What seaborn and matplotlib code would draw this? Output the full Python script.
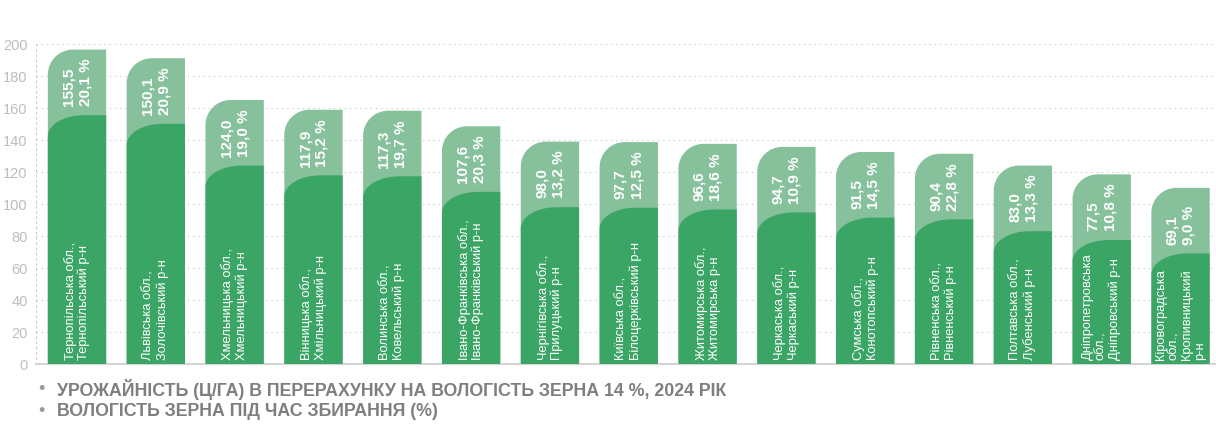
import matplotlib
matplotlib.use("Agg")
import matplotlib.pyplot as plt
import seaborn as sns
import pandas as pd
from matplotlib.path import Path
from matplotlib.patches import PathPatch

# ---------------- data ----------------
regions = [
    "Тернопільська обл.,\nТернопільський р-н",
    "Львівська обл.,\nЗолочівський р-н",
    "Хмельницька обл.,\nХмельницький р-н",
    "Вінницька обл.,\nХмільницький р-н",
    "Волинська обл.,\nКовельський р-н",
    "Івано-Франківська обл.,\nІвано-Франківський р-н",
    "Чернігівська обл.,\nПрилуцький р-н",
    "Київська обл.,\nБілоцерківський р-н",
    "Житомирська обл.,\nЖитомирська р-н",
    "Черкаська обл.,\nЧеркаський р-н",
    "Сумська обл.,\nКонотопський р-н",
    "Рівненська обл.,\nРівненський р-н",
    "Полтавська обл.,\nЛубенський р-н",
    "Дніпропетровська\nобл.,\nДніпровський р-н",
    "Кіровоградська\nобл.,\nКропивницький\nр-н",
]
yields = [155.5, 150.1, 124.0, 117.9, 117.3, 107.6, 98.0, 97.7, 96.6, 94.7, 91.5, 90.4, 83.0, 77.5, 69.1]
moisture = [20.1, 20.9, 19.0, 15.2, 19.7, 20.3, 13.2, 12.5, 18.6, 10.9, 14.5, 22.8, 13.3, 10.8, 9.0]
yticks = [0, 20, 40, 60, 80, 100, 120, 140, 160, 180, 200]
legend_items = [
    "УРОЖАЙНІСТЬ (Ц/ГА) В ПЕРЕРАХУНКУ НА ВОЛОГІСТЬ ЗЕРНА 14 %, 2024 РІК",
    "ВОЛОГІСТЬ ЗЕРНА ПІД ЧАС ЗБИРАННЯ (%)",
]

# ---------------- style ----------------
DARK = "#3ba566"
LIGHT = "#87c19c"
LABEL_BOX = 41          # height of the light label cap above each bar (style)
TXT_GREY = "#7f7f7f"
TICK_GREY = "#bdbdbd"
GRID_GREY = "#c9c9c9"

sns.set_theme(style="white")
plt.rcParams["font.family"] = ["Liberation Sans", "DejaVu Sans"]

def fmt(v):
    return f"{v:.1f}".replace(".", ",")

df = pd.DataFrame({
    "region": regions,
    "yield": yields,
    "cap": [y + LABEL_BOX for y in yields],
})

W, H = 1216, 430
fig = plt.figure(figsize=(W / 100, H / 100), dpi=100)
ax_left, ax_bottom, ax_w, ax_h = 36, 66, 1180, 320
ax = fig.add_axes([ax_left / W, ax_bottom / H, ax_w / W, ax_h / H])

BAR_W = 0.74
sns.barplot(data=df, x="region", y="cap", color=LIGHT, width=BAR_W,
            saturation=1, linewidth=0, ax=ax, zorder=2)
sns.barplot(data=df, x="region", y="yield", color=DARK, width=BAR_W,
            saturation=1, linewidth=0, ax=ax, zorder=3)

XMIN, XMAX = -0.52, 14.45
YMAX = 200
ax.set_xlim(XMIN, XMAX)
ax.set_ylim(0, YMAX)

# pixel -> data conversion for rounded corners
px_x = (XMAX - XMIN) / ax_w
px_y = YMAX / ax_h
K = 0.5523

def rounded_tl(x0, y0, w, h, rx, ry):
    top = y0 + h
    verts = [
        (x0, y0), (x0 + w, y0), (x0 + w, top), (x0 + rx, top),
        (x0 + rx - rx * K, top), (x0, top - ry + ry * K), (x0, top - ry),
        (x0, y0), (x0, y0),
    ]
    codes = [Path.MOVETO, Path.LINETO, Path.LINETO, Path.LINETO,
             Path.CURVE4, Path.CURVE4, Path.CURVE4,
             Path.LINETO, Path.CLOSEPOLY]
    return Path(verts, codes)

patches = list(ax.patches)
n = len(regions)
for i, p in enumerate(patches):
    x0, y0, w, h = p.get_x(), p.get_y(), p.get_width(), p.get_height()
    fc = p.get_facecolor()
    z = p.get_zorder()
    p.remove()
    if i < n:
        rx, ry = 25 * px_x, 25 * px_y
    else:
        rx, ry = 36 * px_x, 21 * px_y
    ax.add_patch(PathPatch(rounded_tl(x0, y0, w, h, rx, ry), facecolor=fc,
                           edgecolor="none", zorder=z))

# texts inside bars
for i, (reg, yv, mv) in enumerate(zip(regions, yields, moisture)):
    ax.text(i, 2.5, reg, rotation=90, ha="center", va="bottom",
            multialignment="left", color="white", fontsize=9.3,
            linespacing=1.12, zorder=5)
    ax.text(i, yv + 5.5, f"{fmt(yv)}\n{fmt(mv)} %", rotation=90,
            ha="center", va="bottom", multialignment="left", color="white",
            fontsize=11, fontweight="bold", linespacing=1.25, zorder=5)

# axes styling
ax.set_xticks([])
ax.set_xlabel("")
ax.set_ylabel("")
ax.set_yticks(yticks)
ax.set_yticklabels([str(t) for t in yticks])
ax.tick_params(axis="y", length=0, pad=6, labelsize=10.5, labelcolor=TICK_GREY)
ax.yaxis.grid(True, color=GRID_GREY, linestyle=(0, (1.2, 3.5)), linewidth=0.8, zorder=0)
ax.set_axisbelow(True)
for s in ["top", "right"]:
    ax.spines[s].set_visible(False)
ax.spines["left"].set_color(GRID_GREY)
ax.spines["left"].set_linestyle((0, (1.2, 3.5)))
ax.spines["left"].set_linewidth(0.8)
ax.spines["bottom"].set_color("#d5d5d5")
ax.spines["bottom"].set_linewidth(1.5)

# legend text below
for k, (txt, ypx) in enumerate(zip(legend_items, [390, 412])):
    fig.text(38 / W, 1 - ypx / H, "•", color="#9a9a9a", fontsize=13,
             ha="left", va="center")
    fig.text(57 / W, 1 - ypx / H, txt, color=TXT_GREY, fontsize=12.8,
             fontweight="bold", ha="left", va="center")

fig.savefig("out.png", dpi=100, facecolor="white")
